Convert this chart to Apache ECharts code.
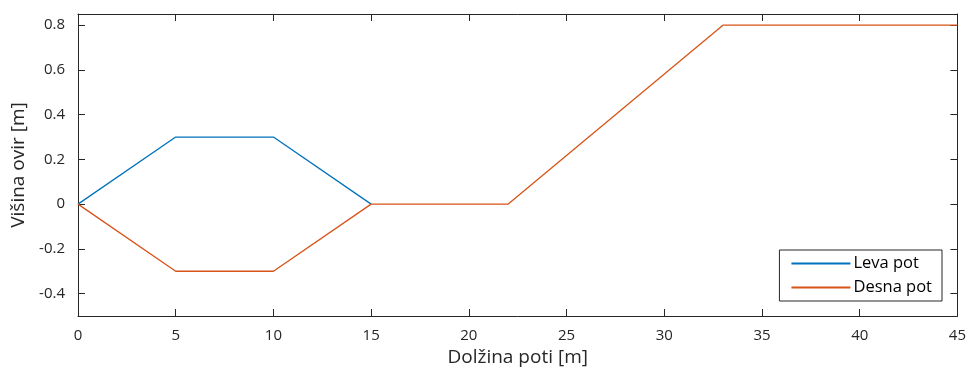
<!DOCTYPE html>
<html>
<head>
<meta charset="utf-8">
<script src="https://cdn.jsdelivr.net/npm/echarts@6/dist/echarts.min.js"></script>
<style>
  html, body { margin: 0; padding: 0; background: #fff; }
  #chart { width: 969px; height: 374px; }
</style>
</head>
<body>
<div id="chart"></div>
<script>
// Path profiles: distance along the path [m] and obstacle height [m]
const levaX = [0, 5, 10, 15];
const levaY = [0, 0.3, 0.3, 0];
const desnaX = [0, 5, 10, 15, 22, 33, 45];
const desnaY = [0, -0.3, -0.3, 0, 0, 0.8, 0.8];
const xTicks = [0, 5, 10, 15, 20, 25, 30, 35, 40, 45];
const yTicks = [-0.4, -0.2, 0, 0.2, 0.4, 0.6, 0.8];
const seriesNames = ['Leva pot', 'Desna pot'];

const font = 'Open Sans';
const axisColor = '#262626';

const pairs = (xs, ys) => xs.map((x, i) => [x, ys[i]]);

const baseX = {
  type: 'value', min: 0, max: 45, interval: 5,
  axisLine: { show: true, onZero: false, lineStyle: { color: axisColor, width: 1 } },
  axisTick: { show: true, inside: true, length: 7, lineStyle: { color: axisColor } },
  splitLine: { show: false }
};
const baseY = {
  type: 'value', min: -0.5, max: 0.85,
  axisLine: { show: true, onZero: false, lineStyle: { color: axisColor, width: 1 } },
  axisTick: { show: true, inside: true, length: 7, customValues: yTicks, lineStyle: { color: axisColor } },
  splitLine: { show: false }
};

const chart = echarts.init(document.getElementById('chart'));
chart.setOption({
  backgroundColor: '#fff',
  animation: false,
  grid: { left: 78, right: 11, top: 14, bottom: 58 },
  legend: {
    right: 27, top: 250,
    orient: 'vertical',
    data: seriesNames,
    itemWidth: 59, itemHeight: 14, itemGap: 7,
    itemStyle: { opacity: 0 },
    padding: [5, 10, 5, 11],
    borderColor: axisColor, borderWidth: 1, borderRadius: 0,
    backgroundColor: '#fff',
    textStyle: { fontFamily: font, fontSize: 16.5, color: '#000', padding: [0, 0, 0, -2] }
  },
  xAxis: [
    Object.assign({}, baseX, {
      position: 'bottom',
      name: 'Dolžina poti [m]', nameLocation: 'middle', nameGap: 31,
      nameTextStyle: { fontFamily: font, fontSize: 19, color: axisColor },
      axisLabel: { show: true, customValues: xTicks, margin: 12, fontFamily: font, fontSize: 15, color: axisColor }
    }),
    Object.assign({}, baseX, { position: 'top', axisLabel: { show: false } })
  ],
  yAxis: [
    Object.assign({}, baseY, {
      position: 'left',
      name: 'Višina ovir [m]', nameLocation: 'middle', nameGap: 48,
      nameTextStyle: { fontFamily: font, fontSize: 19, color: axisColor },
      axisLabel: { show: true, customValues: yTicks, margin: 13, fontFamily: font, fontSize: 15, color: axisColor }
    }),
    Object.assign({}, baseY, { position: 'right', axisLabel: { show: false } })
  ],
  series: [
    {
      name: seriesNames[0], type: 'line', xAxisIndex: 0, yAxisIndex: 0,
      data: pairs(levaX, levaY), symbol: 'none',
      lineStyle: { color: '#0072BD', width: 1.3 }, itemStyle: { color: '#0072BD' }, z: 2
    },
    {
      name: seriesNames[1], type: 'line', xAxisIndex: 0, yAxisIndex: 0,
      data: pairs(desnaX, desnaY), symbol: 'none',
      lineStyle: { color: '#D95319', width: 1.3 }, itemStyle: { color: '#D95319' }, z: 3
    }
  ]
});
</script>
</body>
</html>
